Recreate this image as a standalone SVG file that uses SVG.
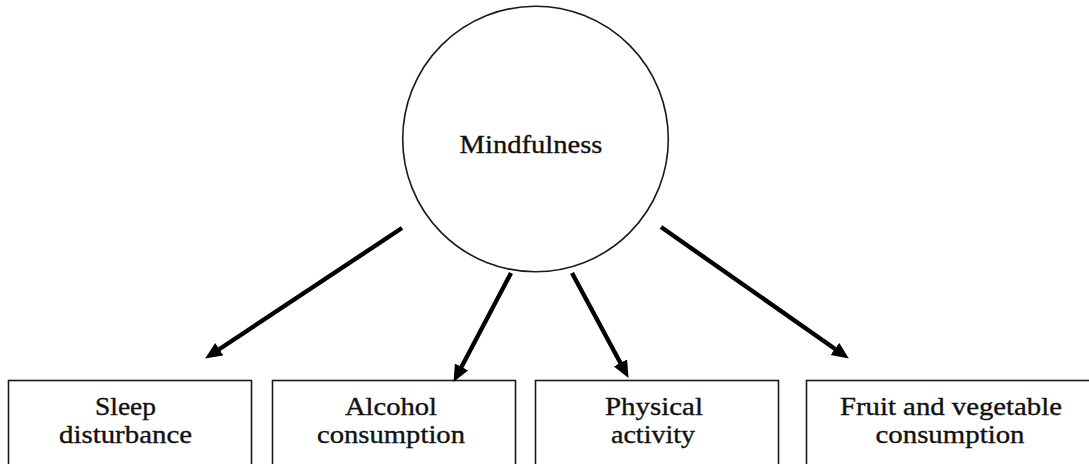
<svg xmlns="http://www.w3.org/2000/svg" width="1089" height="464" viewBox="0 0 1089 464">
<style>
.node{fill:#fff;stroke:#1a1a1a;stroke-width:1.6}
.lbl{font-family:"Liberation Serif","Times New Roman",serif;font-size:25.5px;fill:#111;stroke:#111;stroke-width:0.35;text-anchor:middle}
.conn{stroke:#000;stroke-width:4.4;fill:none;marker-end:url(#ah)}
</style>
<defs>
<marker id="ah" markerUnits="userSpaceOnUse" markerWidth="18" markerHeight="16" refX="6" refY="7.5" orient="auto">
<path d="M0,0 L17,7.5 L0,15 z" fill="#000"/>
</marker>
</defs>
<rect width="1089" height="464" fill="#fff"/>
<g id="mindfulness">
<circle class="node" cx="535.5" cy="139" r="132.8"/>
<text class="lbl" x="531" y="153" textLength="143" lengthAdjust="spacingAndGlyphs">Mindfulness</text>
</g>
<g id="sleep">
<rect class="node" x="8.5" y="380.5" width="243" height="100"/>
<text class="lbl" x="125.5" y="415" textLength="61" lengthAdjust="spacingAndGlyphs">Sleep</text>
<text class="lbl" x="125.5" y="443" textLength="133" lengthAdjust="spacingAndGlyphs">disturbance</text>
</g>
<g id="alcohol">
<rect class="node" x="272.5" y="380.5" width="243" height="100"/>
<text class="lbl" x="391" y="415" textLength="92" lengthAdjust="spacingAndGlyphs">Alcohol</text>
<text class="lbl" x="391" y="443" textLength="148" lengthAdjust="spacingAndGlyphs">consumption</text>
</g>
<g id="physical">
<rect class="node" x="535.5" y="380.5" width="243" height="100"/>
<text class="lbl" x="654" y="415" textLength="98" lengthAdjust="spacingAndGlyphs">Physical</text>
<text class="lbl" x="653" y="443" textLength="84" lengthAdjust="spacingAndGlyphs">activity</text>
</g>
<g id="fruit">
<rect class="node" x="806.5" y="380.5" width="290" height="100"/>
<text class="lbl" x="951" y="415" textLength="222" lengthAdjust="spacingAndGlyphs">Fruit and vegetable</text>
<text class="lbl" x="950" y="443" textLength="149" lengthAdjust="spacingAndGlyphs">consumption</text>
</g>
<g id="connectors">
<line class="conn" x1="402" y1="228" x2="214.3" y2="352.5"/>
<line class="conn" x1="511" y1="273" x2="458.7" y2="372.2"/>
<line class="conn" x1="572" y1="273" x2="623.3" y2="368.2"/>
<line class="conn" x1="661" y1="227" x2="839.8" y2="352.3"/>
</g>
</svg>
